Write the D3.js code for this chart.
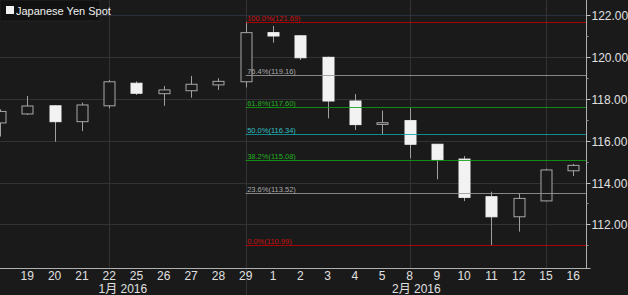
<!DOCTYPE html>
<html><head><meta charset="utf-8">
<script src="https://cdn.jsdelivr.net/npm/d3@7"></script>
<style>
html,body{margin:0;padding:0;background:#1a1a1a;}
svg{display:block;}
text{font-family:"Liberation Sans",Arial,sans-serif;}
</style></head>
<body>
<svg id="c" width="628" height="295"></svg>
<script>
// ---- data ----
const dayLabels = ["18","19","20","21","22","25","26","27","28","29","1","2","3","4","5","8","9","10","11","12","15","16"];
const months    = ["1","1","1","1","1","1","1","1","1","1","2","2","2","2","2","2","2","2","2","2","2","2"];
const opens  = [116.85,117.28,117.67,116.91,117.67,118.75,118.25,118.39,118.67,118.82,121.17,121.02,119.99,117.90,116.78,116.96,115.83,115.12,113.32,112.36,113.12,114.56];
const highs  = [117.50,118.14,117.70,117.82,118.90,118.84,118.62,119.10,118.99,121.69,121.49,121.05,120.02,118.23,117.44,117.55,115.85,115.27,113.56,113.48,114.66,114.89];
const lows   = [116.20,117.23,115.95,116.46,117.55,118.19,117.67,118.06,118.43,118.55,120.69,119.86,117.07,116.51,116.31,115.16,114.15,113.11,110.99,111.65,113.10,114.31];
const closes = [117.40,117.66,116.91,117.71,118.82,118.27,118.43,118.70,118.84,121.17,121.01,119.97,117.90,116.77,116.86,115.83,115.09,113.29,112.36,113.24,114.60,114.82];
const fibPct    = ["100.0%","76.4%","61.8%","50.0%","38.2%","23.6%","0.0%"];
const fibValues = [121.69,119.16,117.60,116.34,115.08,113.52,110.99];
const fibColors = ["#c00000","#9a9a9a","#12a012","#14a0a0","#12a012","#9a9a9a","#c00000"];
const fibLabelColors = ["#d01010","#a8a8a8","#20b020","#30c0c0","#20b020","#a8a8a8","#d01010"];
const yTicks = [112,114,116,118,120,122];
const yMinorTicks = [111,113,115,117,119,121];
const gridDays = [4,9,15,20];
const monthNames = {"1":"1月  2016","2":"2月  2016"};
const seriesName = "Japanese Yen Spot";
const fibStart = 9;

const svg = d3.select("#c");
const W = 628, H = 295;
const axisX = 586.5, axisY = 268.5;

const x = d3.scaleLinear().domain([0, dayLabels.length - 1]).range([0, 573.3]);
const y = d3.scaleLinear().domain([110, 122]).range([15.3 + 12*20.9, 15.3]);
const bodyW = 11;

svg.append("rect").attr("width", W).attr("height", H).attr("fill", "#1a1a1a");

// horizontal grid
svg.append("g").selectAll("line").data(yTicks).join("line")
  .attr("x1", 0).attr("x2", axisX)
  .attr("y1", d => Math.round(y(d)) + 0.5).attr("y2", d => Math.round(y(d)) + 0.5)
  .attr("stroke", d => d === 122 ? "#2a3040" : "#333333").attr("stroke-width", 1);

// vertical grid
svg.append("g").selectAll("line").data(gridDays).join("line")
  .attr("x1", d => Math.round(x(d)) + 0.5).attr("x2", d => Math.round(x(d)) + 0.5)
  .attr("y1", 0).attr("y2", d => d === 9 ? H : axisY)
  .attr("stroke", "#333333").attr("stroke-width", 1);

// candles
const cg = svg.append("g");
dayLabels.forEach((d, i) => {
  const o = opens[i], c = closes[i], h = highs[i], l = lows[i];
  const cx = Math.round(x(i)) + 0.5;
  const up = c >= o;
  cg.append("line").attr("x1", cx).attr("x2", cx)
    .attr("y1", y(h)).attr("y2", y(l)).attr("stroke", "#a0a0a0").attr("stroke-width", 1);
  const top = y(Math.max(o, c)), bot = y(Math.min(o, c));
  const hh = Math.max(bot - top, 1.5);
  cg.append("rect").attr("x", cx - bodyW/2).attr("y", top).attr("width", bodyW).attr("height", hh)
    .attr("fill", up ? "#1a1a1a" : "#f2f2f2")
    .attr("stroke", up ? "#a8a8a8" : "#f2f2f2").attr("stroke-width", 1);
});

// fib lines (on top of candles)
const fg = svg.append("g");
fibValues.forEach((v, i) => {
  const yy = Math.round(y(v)) + 0.5;
  fg.append("line").attr("x1", x(fibStart)).attr("x2", axisX)
    .attr("y1", yy).attr("y2", yy).attr("stroke", fibColors[i]).attr("stroke-width", 1.2)
    .attr("stroke-opacity", 0.85);
  fg.append("text").attr("x", x(fibStart) + 1.5).attr("y", yy - 2)
    .attr("font-size", 7.5).attr("fill", fibLabelColors[i])
    .text(fibPct[i] + "(" + v.toFixed(2) + ")");
});

// axes lines
svg.append("line").attr("x1", axisX).attr("x2", axisX).attr("y1", 0).attr("y2", axisY)
  .attr("stroke", "#b0b0b0").attr("stroke-width", 1);
svg.append("line").attr("x1", 0).attr("x2", axisX + 4).attr("y1", axisY).attr("y2", axisY)
  .attr("stroke", "#b0b0b0").attr("stroke-width", 1);

// right axis ticks / labels
const ag = svg.append("g");
yTicks.forEach(v => {
  const yy = Math.round(y(v)) + 0.5;
  ag.append("line").attr("x1", axisX).attr("x2", axisX + 4).attr("y1", yy).attr("y2", yy)
    .attr("stroke", "#c0c0c0");
  ag.append("text").attr("x", axisX + 5).attr("y", yy).attr("dy", "0.35em")
    .attr("font-size", 12).attr("fill", "#e0e0e0").text(v.toFixed(2));
});
yMinorTicks.forEach(v => {
  const yy = Math.round(y(v)) + 0.5;
  ag.append("line").attr("x1", axisX).attr("x2", axisX + 2).attr("y1", yy).attr("y2", yy)
    .attr("stroke", "#909090");
});

// x labels
const xg = svg.append("g");
dayLabels.forEach((d, i) => {
  if (i === 0) return;
  xg.append("text").attr("x", x(i)).attr("y", 280).attr("text-anchor", "middle")
    .attr("font-size", 12).attr("fill", "#e0e0e0").text(d);
});
// month labels
const monthKeys = Array.from(new Set(months));
const monthPos = {"1": 4.5, "2": 15.25};
monthKeys.forEach(m => {
  xg.append("text").attr("x", x(monthPos[m])).attr("y", 293).attr("text-anchor", "middle")
    .attr("font-size", 12).attr("fill", "#e0e0e0")
    .style("font-family", "'Liberation Sans','Noto Sans CJK JP',sans-serif")
    .text(monthNames[m]);
});

// legend
const lg = svg.append("g");
lg.append("rect").attr("x", 0).attr("y", 0).attr("width", 100).attr("height", 21).attr("fill", "#111111")
  .attr("stroke", "#222").attr("stroke-width", 1);
lg.append("rect").attr("x", 6).attr("y", 6).attr("width", 8).attr("height", 8).attr("fill", "#f0f0f0");
lg.append("text").attr("x", 16).attr("y", 14.5).attr("font-size", 11).attr("fill", "#f0f0f0").text(seriesName);
</script>
</body></html>
